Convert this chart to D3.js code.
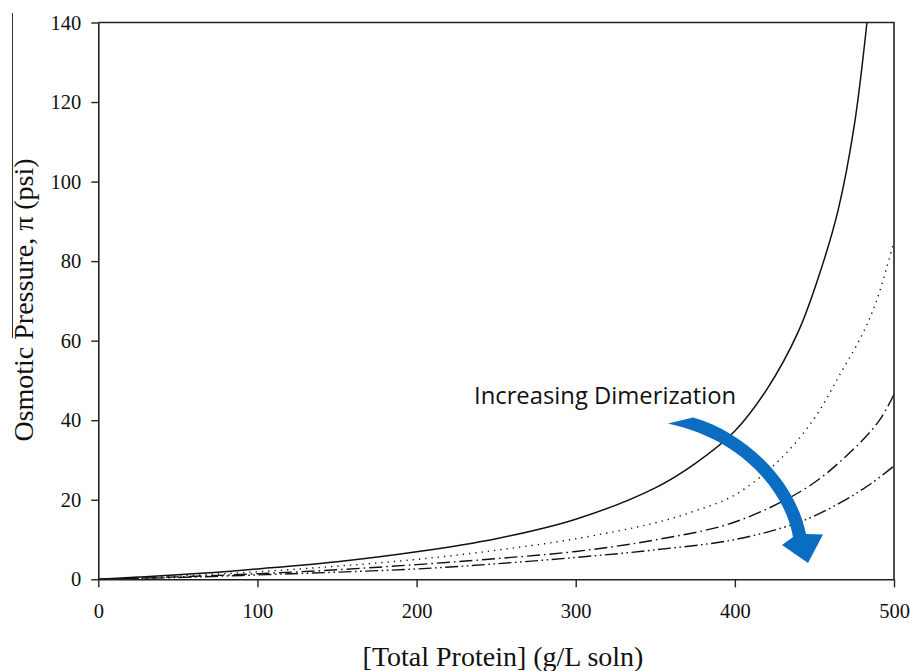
<!DOCTYPE html>
<html>
<head>
<meta charset="utf-8">
<script src="https://cdn.jsdelivr.net/npm/d3@7"></script>
<style>
  body { margin: 0; background: #fff; }
  svg { display: block; }
</style>
</head>
<body>
<svg id="chart"></svg>
<script>
// data: osmotic pressure (psi) vs total protein (g/L soln)
const solidX = [0, 25, 50, 75, 100, 150, 200, 250, 300, 350, 375, 400, 420, 440, 455, 465, 475, 483];
const solidY = [0, 0.55, 1.15, 1.8, 2.6, 4.4, 6.9, 10.2, 15.1, 23.0, 29.1, 37.3, 47.7, 62.4, 79, 93, 114, 140];

const dottedX = [0, 50, 100, 150, 200, 250, 300, 350, 375, 400, 428, 450, 466, 480, 489, 500];
const dottedY = [0, 0.8, 1.9, 3.3, 5.0, 7.3, 10.2, 14.2, 17.2, 21.2, 30.0, 40.5, 51.5, 61.5, 70.0, 85];

const dashDotX = [0, 50, 100, 150, 200, 250, 300, 350, 400, 445, 470, 490, 500];
const dashDotY = [0, 0.6, 1.4, 2.4, 3.7, 5.2, 7.0, 9.9, 14.4, 23.0, 31, 39.5, 46.5];

const dashDotDotX = [0, 50, 100, 150, 200, 250, 300, 350, 400, 440, 466, 485, 500];
const dashDotDotY = [0, 0.45, 1.1, 1.8, 2.6, 3.9, 5.5, 7.4, 10.0, 14.3, 19.2, 23.9, 28.5];

const xTicks = [0, 100, 200, 300, 400, 500];
const yTicks = [0, 20, 40, 60, 80, 100, 120, 140];

// setting up svg
const w = 910, h = 671;
const margin = {top: 22.5, right: 16, bottom: 91.7, left: 98.3};
const svg = d3.select("#chart").attr("width", w).attr("height", h);

const x = d3.scaleLinear().domain([0, 500]).range([margin.left, w - margin.right]);
const y = d3.scaleLinear().domain([0, 140]).range([h - margin.bottom, margin.top]);

svg.append("clipPath").attr("id", "plot")
  .append("rect")
    .attr("x", margin.left).attr("y", margin.top)
    .attr("width", w - margin.left - margin.right)
    .attr("height", h - margin.top - margin.bottom);

// stray line at the far left of the original scan
svg.append("line")
  .attr("x1", 12.5).attr("x2", 12.5).attr("y1", 13).attr("y2", 338)
  .attr("stroke", "#333").attr("stroke-width", 1);

// curves
const series = [
  {xs: solidX, ys: solidY, dash: null, width: 1.5},
  {xs: dottedX, ys: dottedY, dash: "1.3,5", width: 1.4},
  {xs: dashDotX, ys: dashDotY, dash: "13,4,1.6,4", width: 1.4},
  {xs: dashDotDotX, ys: dashDotDotY, dash: "13,3.5,1.6,3.5,1.6,3.5", width: 1.4}
];

const line = d3.line()
  .x(d => x(d[0]))
  .y(d => y(d[1]))
  .curve(d3.curveCatmullRom.alpha(0.5));

svg.append("g").attr("clip-path", "url(#plot)")
  .selectAll("path")
  .data(series)
  .join("path")
    .attr("d", s => line(s.xs.map((v, i) => [v, s.ys[i]])))
    .attr("fill", "none")
    .attr("stroke", "#111")
    .attr("stroke-width", s => s.width)
    .attr("stroke-dasharray", s => s.dash);

// frame (top and right)
svg.append("path")
  .attr("d", `M${x(0)},${y(140)}H${x(500)}V${y(0)}`)
  .attr("fill", "none").attr("stroke", "#222").attr("stroke-width", 1.6);

// axes
const fontSerif = "'Liberation Serif', 'Times New Roman', serif";

const xAxis = svg.append("g")
  .attr("transform", `translate(0,${y(0)})`)
  .call(d3.axisBottom(x).tickValues(xTicks).tickSize(8).tickPadding(16).tickSizeOuter(0));

const yAxis = svg.append("g")
  .attr("transform", `translate(${x(0)},0)`)
  .call(d3.axisLeft(y).tickValues(yTicks).tickSize(7).tickPadding(10).tickSizeOuter(0));

[xAxis, yAxis].forEach(g => {
  g.selectAll(".domain").attr("stroke", "#222").attr("stroke-width", 1.6);
  g.selectAll(".tick line").attr("stroke", "#222").attr("stroke-width", 1.4);
  g.selectAll("text")
    .attr("fill", "#111")
    .style("font-family", fontSerif)
    .style("font-size", "20.5px");
});

// axis titles
svg.append("text")
  .attr("x", 503)
  .attr("y", 666)
  .attr("text-anchor", "middle")
  .style("font-family", fontSerif)
  .style("font-size", "28px")
  .attr("fill", "#111")
  .text("[Total Protein] (g/L soln)");

svg.append("text")
  .attr("transform", "translate(33,300) rotate(-90)")
  .attr("text-anchor", "middle")
  .style("font-family", fontSerif)
  .style("font-size", "28px")
  .attr("fill", "#111")
  .text("Osmotic Pressure, \u03c0 (psi)");

// annotation
svg.append("text")
  .attr("x", 474)
  .attr("y", 404)
  .style("font-family", "'Open Sans', Lato, sans-serif")
  .style("font-size", "23.8px")
  .attr("fill", "#111")
  .text("Increasing Dimerization");

svg.append("path")
  .attr("d", "M693,417.5 C745,432 795,480 806,534 L823,534.5 L808,563 L782,545 L793,537 C786,495 745,440 668,423.5 Z")
  .attr("fill", "#0B6DC1");
</script>
</body>
</html>
